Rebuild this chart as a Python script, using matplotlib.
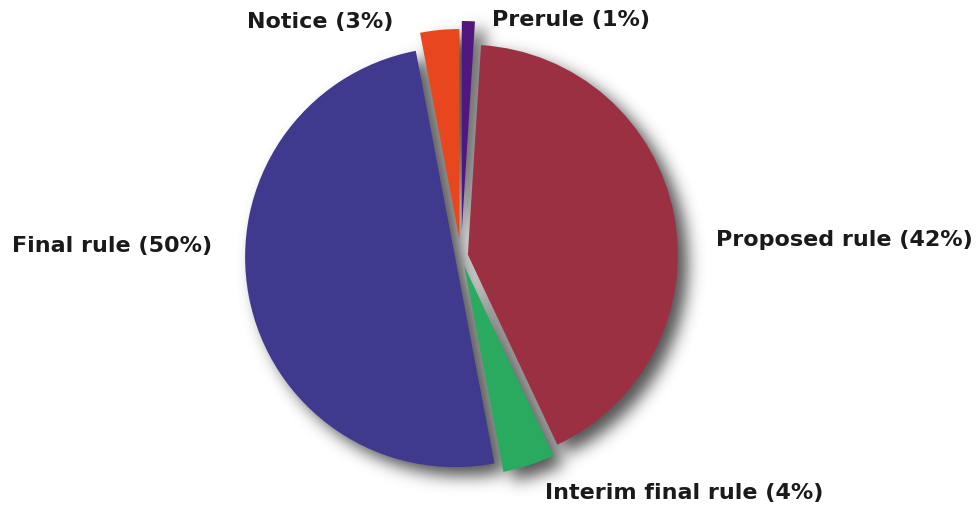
import numpy as np
import matplotlib
matplotlib.use("Agg")
import matplotlib.pyplot as plt
from matplotlib.collections import PatchCollection
from matplotlib.patches import Wedge

categories = ["Prerule", "Proposed rule", "Interim final rule", "Final rule", "Notice"]
shares = [1, 42, 4, 50, 3]
labels = ["Prerule (1%)", "Proposed rule (42%)", "Interim final rule (4%)",
          "Final rule (50%)", "Notice (3%)"]
colors = ["#52177E", "#9C3043", "#2AAA5F", "#403A8F", "#E8461F"]
explode = [25, 7, 10, 6, 17]

W, H = 977, 506
fig = plt.figure(figsize=(W / 100, H / 100), dpi=100)
ax = fig.add_axes([0, 0, 1, 1])

center = (461, H - 257)
radius = 210


def blur1d(a, sigma, axis):
    r = int(3 * sigma)
    x = np.arange(-r, r + 1)
    k = np.exp(-0.5 * (x / sigma) ** 2)
    k /= k.sum()
    return np.apply_along_axis(lambda v: np.convolve(v, k, mode="same"), axis, a)


def drop_shadow(im, dpi):
    pad = 45
    src = np.pad(im, [(pad, pad), (pad, pad), (0, 0)], "constant")
    alpha = src[..., 3]
    alpha = np.roll(alpha, 10, axis=1)
    alpha = np.roll(alpha, 9, axis=0)
    a = blur1d(alpha, 8, 0)
    a = blur1d(a, 8, 1)
    out = np.zeros_like(src)
    out[..., 0] = 0.2
    out[..., 1] = 0.2
    out[..., 2] = 0.2
    out[..., 3] = np.clip(a * 0.85, 0, 1)
    return out, -pad, -pad


wedges, _ = ax.pie(shares, colors=colors, startangle=90, counterclock=False,
                   explode=explode, center=center, radius=radius,
                   wedgeprops=dict(linewidth=0))
for w in wedges:
    w.set_zorder(3)

shadow = PatchCollection([Wedge(w.center, w.r, w.theta1, w.theta2) for w in wedges],
                         facecolor="k", edgecolor="none", zorder=1)
shadow.set_agg_filter(drop_shadow)
shadow.set_rasterized(True)
ax.add_collection(shadow)

ax.set_xlim(0, W)
ax.set_ylim(0, H)
ax.set_aspect("equal")
ax.axis("off")

font = dict(family=["DejaVu Sans"], fontweight="bold", fontsize=16,
            color="#1a1a1a")
label_pos = [(492, 20, "left"), (716, 240, "left"), (545, 493, "left"),
             (12, 246, "left"), (247, 22, "left")]
for lab, (x, y, ha) in zip(labels, label_pos):
    ax.text(x, H - y, lab, ha=ha, va="center", zorder=5, **font)

fig.savefig("out.png", dpi=100)
